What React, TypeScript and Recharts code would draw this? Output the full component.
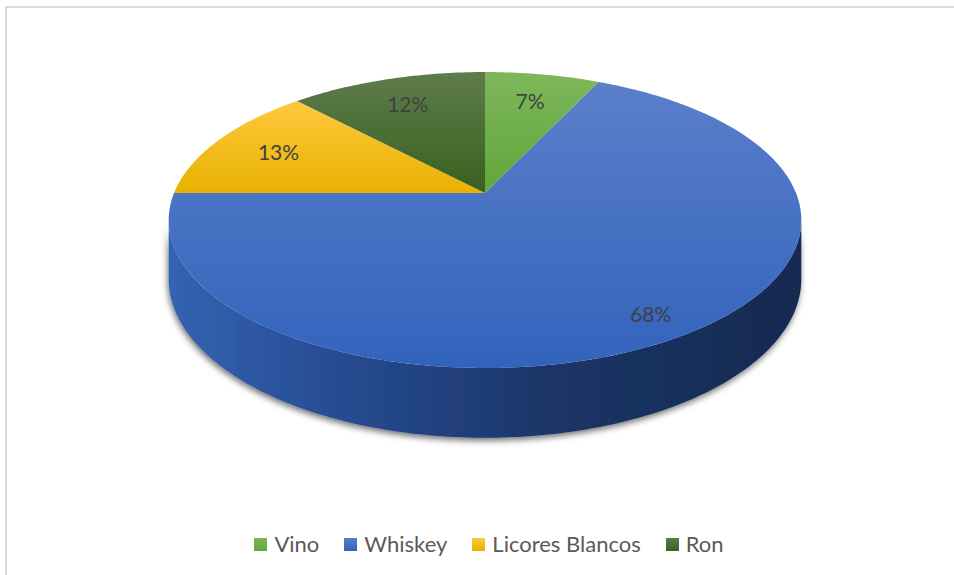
import { PieChart, Pie, Legend } from "recharts";

const categories = ["Vino", "Whiskey", "Licores Blancos", "Ron"];
const shares = [7, 68, 13, 12];
// top colour, bottom colour of each slice's top face
const topColors = ["#7db75a", "#5b7fca", "#fec93f", "#5e7c4c"];
const baseColors = ["#63a53b", "#3263bc", "#e8b100", "#38601e"];

const data = categories.map((name, i) => ({ name, value: shares[i] }));

const TILT = 0.1825; // perspective strength
const FLAT = 0.46; // vertical squash of the disc
const DEPTH = 57;
const SIL = (Math.acos(-TILT) * 180) / Math.PI; // silhouette angle of the side

const FONT = "Lato, 'Open Sans', sans-serif";

type Pt = [number, number];

const project = (cx: number, cy: number, rad: number, phi: number, r: number, drop = 0): Pt => {
  const a = (phi * Math.PI) / 180;
  const u = r * Math.sin(a);
  const v = r * Math.cos(a);
  const s = 1 / (1 + TILT * v);
  return [cx + rad * u * s, cy - rad * FLAT * v * s + drop * s];
};

const arc = (cx: number, cy: number, rad: number, p1: number, p2: number, drop = 0) => {
  const n = Math.max(2, Math.ceil(Math.abs(p2 - p1)));
  const pts: Pt[] = [];
  for (let i = 0; i <= n; i++) pts.push(project(cx, cy, rad, p1 + ((p2 - p1) * i) / n, 1, drop));
  return pts;
};

const toPath = (pts: Pt[]) =>
  pts.map((p, i) => `${i ? "L" : "M"}${p[0].toFixed(2)},${p[1].toFixed(2)}`).join("") + "Z";

const Defs = () => (
  <defs>
    {categories.map((c, i) => (
      <linearGradient key={c} id={`top-${i}`} x1="0" y1="0" x2="0" y2="1">
        <stop offset="0%" stopColor={topColors[i]} />
        <stop offset="100%" stopColor={baseColors[i]} />
      </linearGradient>
    ))}
    <linearGradient id="side-1" x1="0" y1="0" x2="1" y2="0">
      <stop offset="0%" stopColor="#3463b2" />
      <stop offset="30%" stopColor="#26498f" />
      <stop offset="60%" stopColor="#1b3567" />
      <stop offset="100%" stopColor="#152a50" />
    </linearGradient>
    <filter id="pie-shadow" x="-10%" y="-20%" width="120%" height="150%">
      <feDropShadow dx="-1" dy="3" stdDeviation="3" floodColor="#000" floodOpacity="0.55" />
    </filter>
  </defs>
);

const renderSlice = (props: any) => {
  const { cx, cy, outerRadius, startAngle, endAngle, percent, index } = props;
  const p1 = 90 - startAngle;
  const p2 = 90 - endAngle;
  const top: Pt[] = [[cx, cy], ...arc(cx, cy, outerRadius, p1, p2)];

  const lo = Math.max(p1, SIL);
  const hi = Math.min(p2, 360 - SIL);
  let side = null;
  if (hi > lo) {
    const upper = arc(cx, cy, outerRadius, lo, hi);
    const lower = arc(cx, cy, outerRadius, lo, hi, DEPTH).reverse();
    side = (
      <path d={toPath([...upper, ...lower])} fill={`url(#side-${index})`} filter="url(#pie-shadow)" />
    );
  }

  const mid = (p1 + p2) / 2;
  const [lx, ly] = project(cx, cy, outerRadius, mid, 0.74 + 0.18 * percent);

  return (
    <g key={`slice-${index}`}>
      {index === 0 && <Defs />}
      {side}
      <path d={toPath(top)} fill={`url(#top-${index})`} />
      <text
        x={lx}
        y={ly}
        textAnchor="middle"
        dominantBaseline="central"
        fontFamily={FONT}
        fontSize={21}
        fill="#404040"
      >
        {`${Math.round(percent * 100)}%`}
      </text>
    </g>
  );
};

const LegendRow = () => (
  <div
    style={{
      display: "flex",
      justifyContent: "center",
      paddingLeft: 24,
      fontFamily: FONT,
      fontSize: 22,
      color: "#595959",
      lineHeight: "26px",
    }}
  >
    {categories.map((c, i) => (
      <div key={c} style={{ display: "flex", alignItems: "center", marginRight: i < categories.length - 1 ? 25 : 0 }}>
        <span
          style={{
            width: 13,
            height: 13,
            marginRight: 7,
            background: `linear-gradient(${topColors[i]}, ${baseColors[i]})`,
          }}
        />
        {c}
      </div>
    ))}
  </div>
);

const App = () => {
  return (
    <div style={{ position: "absolute", left: 0, top: 0, width: 954, height: 575, overflow: "hidden", background: "#fff" }}>
      <div
        style={{
          position: "absolute",
          left: 5,
          top: 6,
          width: 980,
          height: 600,
          borderTop: "2px solid #d9d9d9",
          borderLeft: "2px solid #d9d9d9",
        }}
      />
      <PieChart
        width={954}
        height={575}
        margin={{ top: 0, right: 0, bottom: 0, left: 0 }}
        style={{ position: "absolute", left: 0, top: 0 }}
      >
        <Pie
          data={data}
          dataKey="value"
          nameKey="name"
          cx={485}
          cy={193}
          outerRadius={311}
          startAngle={90}
          endAngle={-270}
          fill="transparent"
          stroke="none"
          label={renderSlice}
          labelLine={false}
          isAnimationActive={false}
        />
        <Legend content={<LegendRow />} wrapperStyle={{ top: 531, left: 0, width: 954 }} />
      </PieChart>
    </div>
  );
};

export default App;
